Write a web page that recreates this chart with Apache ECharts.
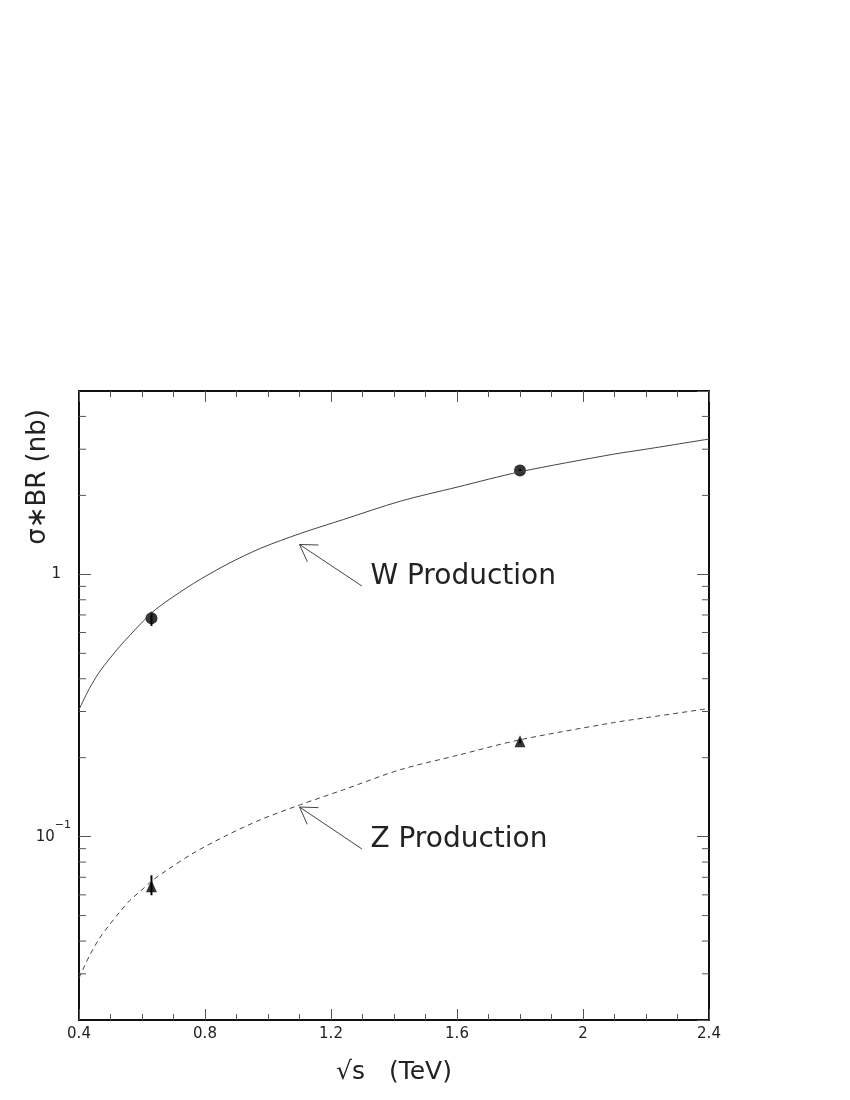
<!DOCTYPE html>
<html><head><meta charset="utf-8">
<script src="https://cdn.jsdelivr.net/npm/echarts@6/dist/echarts.min.js"></script>
<style>html,body{margin:0;padding:0;background:#fff}#c{width:850px;height:1100px}</style>
</head><body><div id="c"></div>
<script>
const FONT = 'DejaVu Sans';
const xMin = 0.4, xMax = 2.4, xStep = 0.4;
const yMin = 0.02, yMax = 5;
const curveX  = [0.400,0.433,0.464,0.496,0.528,0.560,0.597,0.634,0.676,0.764,0.870,0.976,1.103,1.240,1.420,1.600,1.800,2.096,2.200,2.400];
const wTheory = [0.305,0.367,0.423,0.475,0.529,0.583,0.650,0.719,0.786,0.924,1.092,1.256,1.432,1.619,1.900,2.150,2.460,2.870,3.000,3.280];
const zTheory = [0.0289,0.0351,0.0408,0.0460,0.0514,0.0569,0.0623,0.0682,0.0741,0.0867,0.1013,0.1160,0.1324,0.1510,0.1800,0.2040,0.2340,0.2720,0.2840,0.3080];
const dataX = [0.63, 1.8];
const wMeasured = [0.68, 2.49];
const wErrLow = [0.636, 2.46];
const wErrHigh = [0.72, 2.52];
const zMeasured = [0.0647, 0.231];
const zErrLow = [0.0598, 0.227];
const zErrHigh = [0.0712, 0.235];
const yMinorTicks = [0.03,0.04,0.05,0.06,0.07,0.08,0.09,0.2,0.3,0.4,0.5,0.6,0.7,0.8,0.9,2,3,4];
const annotationText = ['W Production', 'Z Production'];
const arrowTail = [[1.298, 0.903], [1.298, 0.0898]];
const arrowTip = [[1.100, 1.30], [1.100, 0.1297]];
const textAnchor = [[1.325, 0.977], [1.325, 0.0976]];

const chart = echarts.init(document.getElementById('c'), null, {renderer: 'canvas'});
const axisLine = {show: true, lineStyle: {color: '#111', width: 2}};
const tickStyle = {color: '#555', width: 1};
function xAxisCfg(pos, showLabel) {
  return {
    type: 'value', position: pos, min: xMin, max: xMax, interval: xStep,
    axisLine: axisLine,
    axisTick: {show: true, inside: true, length: 11, lineStyle: tickStyle},
    minorTick: {show: true, splitNumber: 4, length: 6, lineStyle: tickStyle},
    splitLine: {show: false}, minorSplitLine: {show: false},
    axisLabel: {show: showLabel, fontSize: 15, fontFamily: FONT, color: '#222', margin: 7},
    name: showLabel ? '\u221As   (TeV)' : '',
    nameLocation: 'middle', nameGap: 40,
    nameTextStyle: {fontSize: 25, fontFamily: FONT, color: '#222'}
  };
}
function yAxisCfg(pos, showLabel) {
  return {
    type: 'log', logBase: 10, position: pos, min: yMin, max: yMax,
    axisLine: axisLine,
    axisTick: {show: true, inside: true, length: 12, lineStyle: tickStyle},
    splitLine: {show: false},
    axisLabel: {
      show: showLabel, margin: 8, showMinLabel: false, showMaxLabel: false,
      fontFamily: FONT, color: '#222',
      formatter: function (v) {
        const l = Math.log10(v), e = Math.round(l);
        if (Math.abs(l - e) > 1e-6) return '';
        if (e === 0) return '{one|1}';
        return '{b|10}{s|' + (e < 0 ? '\u2212' : '') + Math.abs(e) + '}';
      },
      rich: {
        one: {fontSize: 15, fontFamily: FONT, color: '#222', padding: [0, 10, 0, 0]},
        b: {fontSize: 15, fontFamily: FONT, color: '#222', lineHeight: 34, verticalAlign: 'middle'},
        s: {fontSize: 11, fontFamily: FONT, color: '#222', lineHeight: 34, verticalAlign: 'top'}
      }
    }
  };
}

const option = {
  animation: false,
  backgroundColor: '#fff',
  grid: {left: 79, top: 391, width: 630, height: 629, containLabel: false},
  xAxis: [xAxisCfg('bottom', true), xAxisCfg('top', false)],
  yAxis: [yAxisCfg('left', true), yAxisCfg('right', false)],
  graphic: [{
    type: 'text', x: 38, y: 477, rotation: Math.PI / 2,
    style: {text: '\u03C3\u2217BR (nb)', fontSize: 26, fontFamily: FONT, fill: '#222', align: 'center', verticalAlign: 'middle'}
  }],
  series: [
    {
      type: 'custom', name: 'minorTicks', clip: false, silent: true,
      data: yMinorTicks.map(v => [xMin, v]),
      renderItem: function (params, api) {
        const v = api.value(1);
        const a = api.coord([xMin, v]), b = api.coord([xMax, v]);
        return {type: 'group', children: [
          {type: 'line', shape: {x1: a[0], y1: a[1], x2: a[0] + 7, y2: a[1]}, style: {stroke: '#555', lineWidth: 1}},
          {type: 'line', shape: {x1: b[0] - 7, y1: b[1], x2: b[0], y2: b[1]}, style: {stroke: '#555', lineWidth: 1}}
        ]};
      }
    },
    {
      type: 'line', name: 'W theory', data: curveX.map((x, i) => [x, wTheory[i]]),
      showSymbol: false, smooth: 0.3, lineStyle: {color: '#444', width: 1}
    },
    {
      type: 'line', name: 'Z theory', data: curveX.map((x, i) => [x, zTheory[i]]),
      showSymbol: false, smooth: 0.3, lineStyle: {color: '#444', width: 1, type: [5, 4]}
    },
    {
      type: 'custom', name: 'errors', silent: true,
      encode: {x: 0, y: [1, 2]},
      data: dataX.map((x, i) => [x, wErrLow[i], wErrHigh[i]]).concat(dataX.map((x, i) => [x, zErrLow[i], zErrHigh[i]])),
      renderItem: function (params, api) {
        const lo = api.coord([api.value(0), api.value(1)]);
        const hi = api.coord([api.value(0), api.value(2)]);
        return {type: 'line', shape: {x1: lo[0], y1: lo[1], x2: hi[0], y2: hi[1]}, style: {stroke: '#000', lineWidth: 2}};
      }
    },
    {
      type: 'scatter', name: 'W data', data: dataX.map((x, i) => [x, wMeasured[i]]),
      symbol: 'circle', symbolSize: 12, itemStyle: {color: '#000'}
    },
    {
      type: 'scatter', name: 'Z data', data: dataX.map((x, i) => [x, zMeasured[i]]),
      symbol: 'triangle', symbolSize: [11, 12], itemStyle: {color: '#000'}
    },
    {
      type: 'custom', name: 'annotations', silent: true, clip: false,
      encode: {x: [0, 2, 4], y: [1, 3, 5]},
      data: arrowTail.map((t, i) => [t[0], t[1], arrowTip[i][0], arrowTip[i][1], textAnchor[i][0], textAnchor[i][1]]),
      renderItem: function (params, api) {
        const tail = api.coord([api.value(0), api.value(1)]);
        const tip = api.coord([api.value(2), api.value(3)]);
        const t = api.coord([api.value(4), api.value(5)]);
        const ang = Math.atan2(tail[1] - tip[1], tail[0] - tip[0]);
        const h = 19, a = 32 * Math.PI / 180;
        const h1 = [tip[0] + h * Math.cos(ang - a), tip[1] + h * Math.sin(ang - a)];
        const h2 = [tip[0] + h * Math.cos(ang + a), tip[1] + h * Math.sin(ang + a)];
        return {type: 'group', children: [
          {type: 'polyline', shape: {points: [tail, tip]}, style: {stroke: '#444', lineWidth: 1, fill: null}},
          {type: 'polyline', shape: {points: [h1, tip, h2]}, style: {stroke: '#444', lineWidth: 1, fill: null}},
          {type: 'text', x: t[0], y: t[1], style: {text: annotationText[params.dataIndex], fontSize: 28, fontFamily: FONT, fill: '#222', align: 'left', verticalAlign: 'middle'}}
        ]};
      }
    }
  ]
};
chart.setOption(option);
</script>
</body></html>
